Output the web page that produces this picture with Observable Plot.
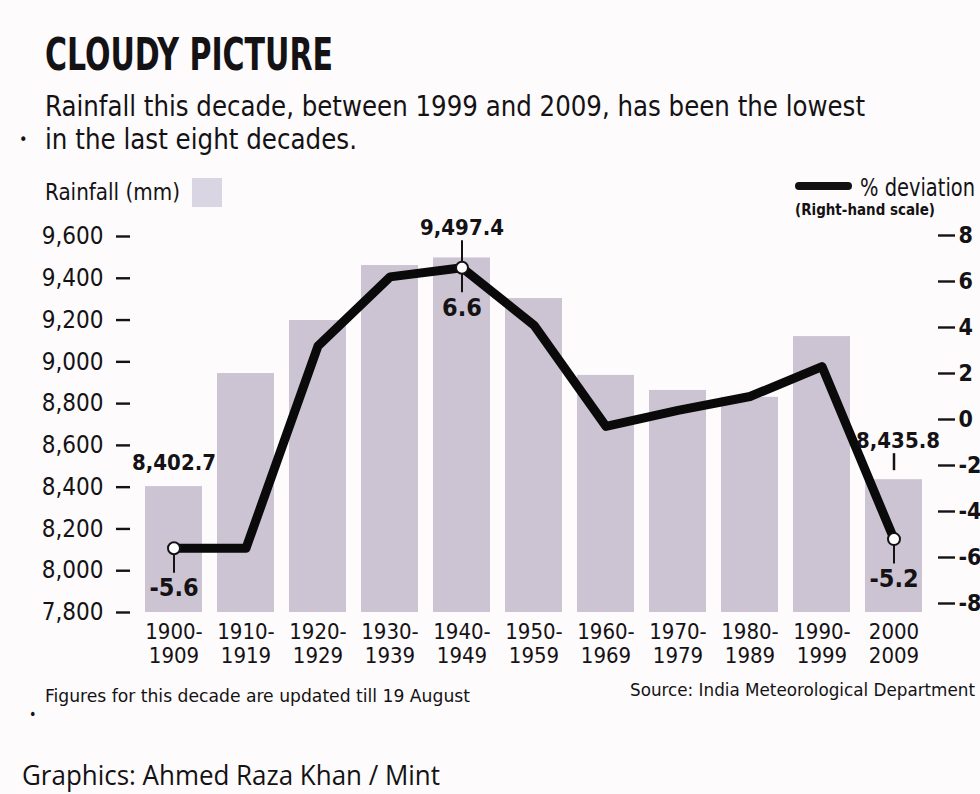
<!DOCTYPE html>
<html>
<head>
<meta charset="utf-8">
<script src="https://cdn.jsdelivr.net/npm/d3@7"></script>
<script src="https://cdn.jsdelivr.net/npm/@observablehq/plot@0.6"></script>
<style>
  body { margin: 0; background: #fdfbfc; }
  #wrap { position: relative; width: 980px; height: 794px; overflow: hidden;
          font-family: "DejaVu Sans Condensed", "DejaVu Sans", sans-serif; font-stretch: condensed; color: #141214; }
  .abs { position: absolute; white-space: nowrap; line-height: 1; transform-origin: 0 0; }
  #chart { position: absolute; left: 0; top: 0; }
  #chart svg, #chart svg text { font-stretch: condensed; }
</style>
</head>
<body>
<div id="wrap">
  <div id="chart"></div>
  <div class="abs" id="title" style="left:45px; top:32px; font-size:45px; font-weight:bold;">CLOUDY PICTURE</div>
  <div class="abs" id="sub1" style="left:45px; top:92px; font-size:29px;">Rainfall this decade, between 1999 and 2009, has been the lowest</div>
  <div class="abs" style="left:19px; top:132px; font-size:16px;">•</div>
  <div class="abs" id="sub2" style="left:45px; top:125px; font-size:29px;">in the last eight decades.</div>
  <div class="abs" id="ylab" style="left:45px; top:181px; font-size:23px;">Rainfall (mm)</div>
  <div class="abs" style="left:192px; top:178px; width:30px; height:29px; background:#d9d5e3;"></div>
  <div class="abs" style="left:795px; top:182px; width:57px; height:8px; background:#111; border-radius:4px;"></div>
  <div class="abs" id="devlab" style="left:860px; top:175px; font-size:25px;">% deviation</div>
  <div class="abs" id="rhs" style="left:795px; top:203px; font-size:15px; font-weight:bold;">(Right-hand scale)</div>
  <div class="abs" id="foot" style="left:45px; top:687px; font-size:18px;">Figures for this decade are updated till 19 August</div>
  <div class="abs" style="left:29px; top:707px; font-size:14px;">•</div>
  <div class="abs" id="src" style="left:630px; top:681px; font-size:18px;">Source: India Meteorological Department</div>
  <div class="abs" id="credit" style="left:22px; top:761px; font-size:27px; font-stretch:normal; font-family:'Open Sans','Liberation Sans',sans-serif;">Graphics: Ahmed Raza Khan / Mint</div>
</div>
<script>
// ---------- data ----------
const decades = ["1900-1909","1910-1919","1920-1929","1930-1939","1940-1949","1950-1959",
                 "1960-1969","1970-1979","1980-1989","1990-1999","2000-2009"];
const xLabels = ["1900-\n1909","1910-\n1919","1920-\n1929","1930-\n1939","1940-\n1949","1950-\n1959",
                 "1960-\n1969","1970-\n1979","1980-\n1989","1990-\n1999","2000\n2009"];
const rainfall = [8402.7, 8944, 9198, 9461, 9497.4, 9303, 8935, 8863, 8830, 9121, 8435.8];
const deviation = [-5.6, -5.6, 3.2, 6.2, 6.6, 4.1, -0.3, 0.4, 1.0, 2.3, -5.2];
const leftTicks = [7800, 8000, 8200, 8400, 8600, 8800, 9000, 9200, 9400, 9600];
const rightTicks = [8, 6, 4, 2, 0, -2, -4, -6, -8];
const labelled = ["1900-1909", "1940-1949", "2000-2009"];

// ---------- layout helpers ----------
const FONT = '"DejaVu Sans Condensed", "DejaVu Sans", sans-serif';
const Y0 = 7800, Y1 = 9600, MT = 236, MB = 182, H = 794;
const mmPerPx = (Y1 - Y0) / (H - MT - MB);
// right-hand scale mapped onto the left scale
const R_LO = 7843.1, R_HI = 9604.8;
const toMM = p => R_LO + (p + 8) * (R_HI - R_LO) / 16;
const fromMM = m => (m - R_LO) * 16 / (R_HI - R_LO) - 8;
const px = n => n * mmPerPx;

const rows = decades.map((d, i) => ({decade: d, rain: rainfall[i], pct: deviation[i]}));
const is = k => d => d.decade === k;
const fmtRain = d3.format(",.1f");
const ink = "#141214";

const chart = Plot.plot({
  width: 980, height: H,
  marginLeft: 130, marginRight: 43, marginTop: MT, marginBottom: MB,
  x: {type: "band", domain: decades, paddingInner: 0.21, paddingOuter: 0.2, axis: null},
  y: {domain: [Y0, Y1], axis: null},
  style: {fontFamily: FONT, background: "transparent", color: ink, overflow: "visible"},
  marks: [
    Plot.barY(rows, {x: "decade", y1: Y0, y2: "rain", fill: "#cdc4d3"}),
    Plot.axisY(leftTicks, {anchor: "left", tickSize: 14, tickPadding: 13, strokeWidth: 2.4,
      tickFormat: d3.format(","), fontSize: 24, label: null}),
    Plot.axisY(rightTicks.map(toMM), {anchor: "right", tickSize: 17, tickPadding: 4, strokeWidth: 2.4,
      tickFormat: d => String(Math.round(fromMM(d))), fontSize: 23, fontWeight: "bold", label: null}),
    Plot.axisX({anchor: "bottom", tickSize: 0, tickPadding: 10, fontSize: 22, lineHeight: 1.08,
      tickFormat: d => xLabels[decades.indexOf(d)], label: null}),
    Plot.line(rows, {x: "decade", y: d => toMM(d.pct), stroke: "#0a0a0a", strokeWidth: 9,
      strokeLinejoin: "round", strokeLinecap: "butt"}),
    // leaders below the circles
    Plot.ruleX(rows, {filter: d => labelled.includes(d.decade), x: "decade",
      y1: d => toMM(d.pct), y2: d => toMM(d.pct) - px(25), stroke: ink, strokeWidth: 2}),
    // leader above 1940s circle
    Plot.ruleX(rows, {filter: is("1940-1949"), x: "decade",
      y1: d => toMM(d.pct), y2: d => toMM(d.pct) + px(27), stroke: ink, strokeWidth: 2}),
    // leader above 2000s bar
    Plot.ruleX(rows, {filter: is("2000-2009"), x: "decade",
      y1: d => d.rain + px(9), y2: d => d.rain + px(26), stroke: ink, strokeWidth: 2.5}),
    Plot.dot(rows, {filter: d => labelled.includes(d.decade), x: "decade", y: d => toMM(d.pct),
      r: 6, fill: "white", stroke: ink, strokeWidth: 2}),
    // rainfall labels
    Plot.text(rows, {filter: is("1900-1909"), x: "decade", y: "rain", text: d => fmtRain(d.rain),
      dy: -24, fontSize: 22, fontWeight: "bold"}),
    Plot.text(rows, {filter: is("1940-1949"), x: "decade", y: d => toMM(d.pct), text: d => fmtRain(d.rain),
      dy: -40, fontSize: 22, fontWeight: "bold"}),
    Plot.text(rows, {filter: is("2000-2009"), x: "decade", y: "rain", text: d => fmtRain(d.rain),
      dy: -39, dx: 4, fontSize: 22, fontWeight: "bold"}),
    // deviation labels
    Plot.text(rows, {filter: d => labelled.includes(d.decade), x: "decade", y: d => toMM(d.pct),
      text: d => String(d.pct), dy: 40, fontSize: 25, fontWeight: "bold"})
  ]
});
document.getElementById("chart").appendChild(chart);

// fit text widths to the reference layout
function fit(id, w) {
  const el = document.getElementById(id);
  const cur = el.getBoundingClientRect().width;
  if (cur > 0) el.style.transform = `scaleX(${w / cur})`;
}
fit("title", 288); fit("sub1", 820); fit("sub2", 312); fit("ylab", 135);
fit("devlab", 115); fit("rhs", 140); fit("foot", 425); fit("src", 345); fit("credit", 418);
</script>
</body>
</html>
